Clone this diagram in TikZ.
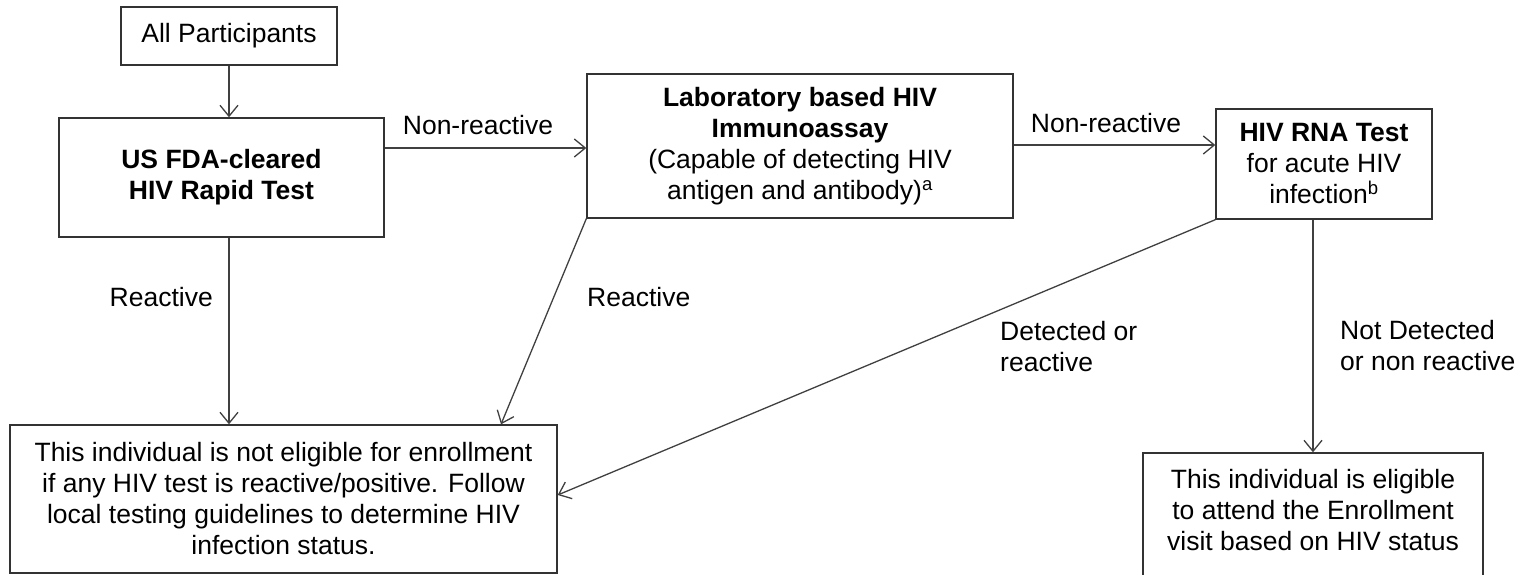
\documentclass[tikz,border=0pt]{standalone}
\usepackage{fontspec}
\setmainfont{Liberation Sans}
\usetikzlibrary{arrows.meta}

\begin{document}
\begin{tikzpicture}[x=1pt,y=-1pt,
  box/.style={draw=black!80, line width=1.4pt, align=center, inner sep=0pt,
    font=\fontsize{26.5}{31}\selectfont},
  lbl/.style={align=left, inner sep=0pt, font=\fontsize{26.5}{31}\selectfont},
  arr/.style={draw=black!75, line width=1.3pt,
    -{Straight Barb[length=11pt,width=18pt,line width=1.3pt]}}]
%\draw [lightgray](0,0) grid[step=50] (1524,575);
\useasboundingbox (0,0) rectangle (1524,575);
\clip (0,0) rectangle (1524,575);

\node[box, minimum width=216pt, minimum height=58pt] (all) at (229,36) {All Participants};
\node[box, minimum width=325pt, minimum height=119pt] (rapid) at (221.5,177.5)
  {\textbf{US FDA-cleared}\\\textbf{HIV Rapid Test}};
\node[box, minimum width=426pt, minimum height=144pt] (lab) at (800,146)
  {\textbf{Laboratory based HIV}\\\textbf{Immunoassay}\\(Capable of detecting HIV\\antigen and antibody)\textsuperscript{a}};
\node[box, minimum width=216pt, minimum height=110pt] (rna) at (1324,164)
  {\textbf{HIV RNA Test}\\for acute HIV\\infection\textsuperscript{b}};

\node[box, minimum width=547pt, minimum height=148pt] (noelig) at (283.5,499)
  {This individual is not eligible for enrollment\\if any HIV test is reactive/positive. Follow\\local testing guidelines to determine HIV\\infection status.};
\node[box, minimum width=340pt, minimum height=140pt, text depth=26pt] (elig) at (1313,523)
  {This individual is eligible\\to attend the Enrollment\\visit based on HIV status};

% arrows
\draw[arr] (all.south) -- (all.south |- rapid.north);
\draw[arr] ([yshift=29.5pt]rapid.east) coordinate (nr1) -- (nr1 -| lab.west);
\draw[arr] ([yshift=1pt]lab.east) coordinate (nr2) -- (nr2 -| rna.west);
\draw[arr] ([xshift=7.5pt]rapid.south) coordinate (re1) -- (re1 |- noelig.north);
\draw[arr] (lab.south west) -- ([xshift=217.5pt]noelig.north);
\draw[arr] (rna.south west) -- ([yshift=4pt]noelig.east);
\draw[arr] (elig.north |- rna.south) -- (elig.north);

% labels
\node[lbl] (nrlbl1) at (478,125) {Non-reactive};
\node[lbl] (nrlbl2) at (1106,123) {Non-reactive};
\node[lbl, anchor=east] (relbl1) at (213,297) {Reactive};
\node[lbl, anchor=west] (relbl2) at (587,297) {Reactive};
\node[lbl, anchor=west] (detlbl) at (1000,347) {Detected or\\reactive};
\node[lbl, anchor=west] (ndlbl) at (1340,346) {Not Detected\\or non reactive};

\end{tikzpicture}
\end{document}
